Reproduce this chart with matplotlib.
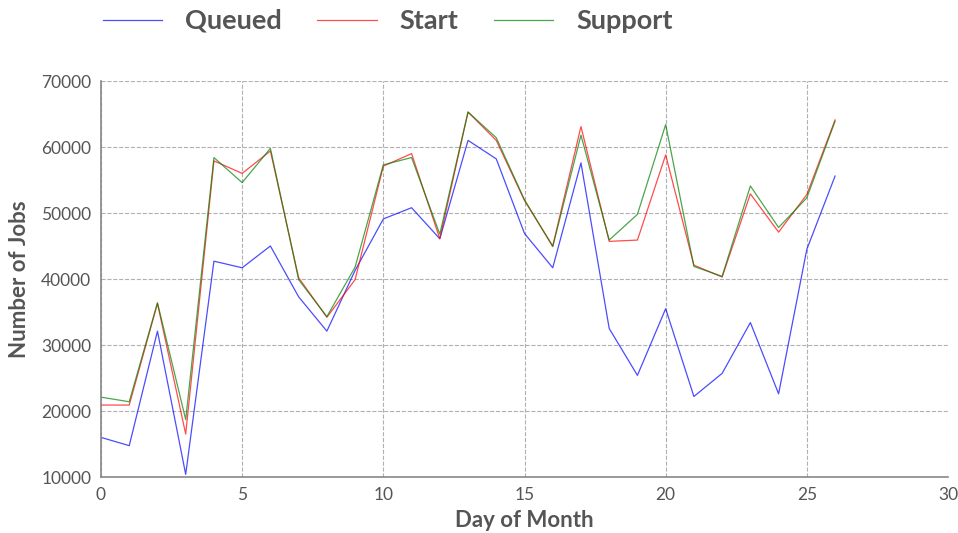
import matplotlib
matplotlib.use("Agg")
import matplotlib.pyplot as plt

# data
days = list(range(27))
queued = [16000, 14750, 32100, 10400, 42700, 41700, 45000, 37300, 32100, 41300,
          49100, 50800, 46100, 61000, 58200, 46900, 41700, 57600, 32500, 25400,
          35500, 22200, 25700, 33400, 22600, 44500, 55600]
start = [20900, 20900, 36300, 16500, 57900, 56000, 59400, 40200, 34200, 39900,
         57100, 59000, 46100, 65300, 61000, 51900, 45000, 63100, 45700, 45900,
         58800, 42100, 40300, 52900, 47100, 52800, 64100]
support = [22100, 21400, 36400, 18700, 58400, 54600, 59800, 39900, 34300, 41800,
           57300, 58400, 46800, 65300, 61400, 52000, 44900, 61800, 45900, 49800,
           63400, 41900, 40400, 54100, 47800, 52300, 63900]

text_color = "#555555"
plt.rcParams["font.family"] = ["Lato", "DejaVu Sans"]

fig = plt.figure(figsize=(9.58, 5.33), dpi=100)
ax = fig.add_axes([101 / 958, 1 - 477 / 533, 847 / 958, 396 / 533])

ax.plot(days, queued, color="blue", lw=0.9, alpha=0.7, label="Queued")
ax.plot(days, start, color="red", lw=0.9, alpha=0.7, label="Start")
ax.plot(days, support, color="green", lw=0.9, alpha=0.7, label="Support")

ax.set_xlim(0, 30)
ax.set_ylim(10000, 70000)
ax.set_xticks(range(0, 31, 5))
ax.set_yticks(range(10000, 70001, 10000))
ax.grid(True, ls="--", color="#b0b0b0", lw=0.8)
ax.set_axisbelow(True)

for side in ["top", "right"]:
    ax.spines[side].set_visible(False)
for side in ["left", "bottom"]:
    ax.spines[side].set_color("#888888")
    ax.spines[side].set_linewidth(1.2)

ax.tick_params(length=0, labelsize=12.5, colors=text_color, pad=7)
ax.set_xlabel("Day of Month", fontsize=16, fontweight="bold", color=text_color, labelpad=5)
ax.set_ylabel("Number of Jobs", fontsize=16, fontweight="bold", color=text_color, labelpad=8)

leg = fig.legend(loc="center left", bbox_to_anchor=(0.093, 1 - 21 / 533), ncol=3,
                 frameon=False, borderpad=0, fontsize=19.5, handlelength=2.2,
                 columnspacing=1.3, handletextpad=0.85)
for t in leg.get_texts():
    t.set_color(text_color)
    t.set_fontweight("bold")

fig.savefig("out.png", dpi=100)
